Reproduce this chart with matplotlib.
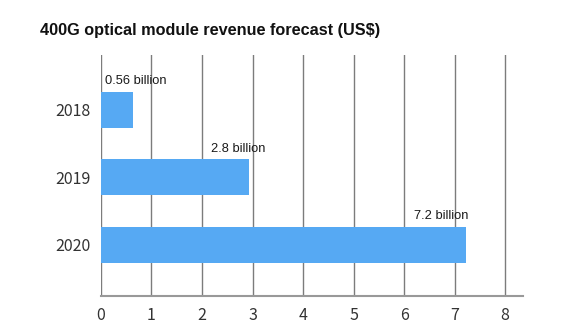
import matplotlib.pyplot as plt

# values
years = ["2018", "2019", "2020"]
revenue = [0.64, 2.93, 7.22]          # bar lengths as drawn (US$ billion)
labels = ["0.56 billion", "2.8 billion", "7.2 billion"]
x_ticks = [0, 1, 2, 3, 4, 5, 6, 7, 8]

# label anchor (left edge, in data units) – layout only
label_x = [0.08, 2.18, 6.2]

bar_color = "#56a9f3"
grid_color = "#7c7c7c"

fig = plt.figure(figsize=(5.67, 3.34), dpi=100)
ax = fig.add_axes([0.1781, 0.1147, 0.7448, 0.7207])

pos = list(range(len(years)))
ax.barh(pos, revenue, height=0.53, color=bar_color, zorder=3)

for i, txt in enumerate(labels):
    ax.text(label_x[i], pos[i] - 0.425, txt, ha="left", va="center",
            fontsize=9.3, family="Liberation Sans", color="#1a1a1a", zorder=4)

ax.set_xlim(0, 8.36)
ax.set_ylim(2.75, -0.81)
ax.set_xticks(x_ticks)
ax.set_yticks(pos)
ax.set_yticklabels(years)

ax.grid(axis="x", color=grid_color, linewidth=1.0, zorder=1)
ax.grid(axis="y", visible=False)
for side in ["top", "right", "left"]:
    ax.spines[side].set_visible(False)
ax.spines["bottom"].set_color("#999999")
ax.spines["bottom"].set_linewidth(1.5)

ax.tick_params(axis="both", length=0, labelsize=11.5, labelcolor="#333333")
ax.tick_params(axis="y", pad=7.4)
ax.tick_params(axis="x", pad=8.5)
for lab in ax.get_xticklabels() + ax.get_yticklabels():
    lab.set_family(["Noto Sans CJK SC", "DejaVu Sans"])

fig.text(40 / 567, 1 - 30 / 334, "400G optical module revenue forecast (US$)",
         ha="left", va="center", fontsize=11.7, fontweight="bold",
         family="Liberation Sans", color="#111111")

fig.savefig("out.png", dpi=100)
